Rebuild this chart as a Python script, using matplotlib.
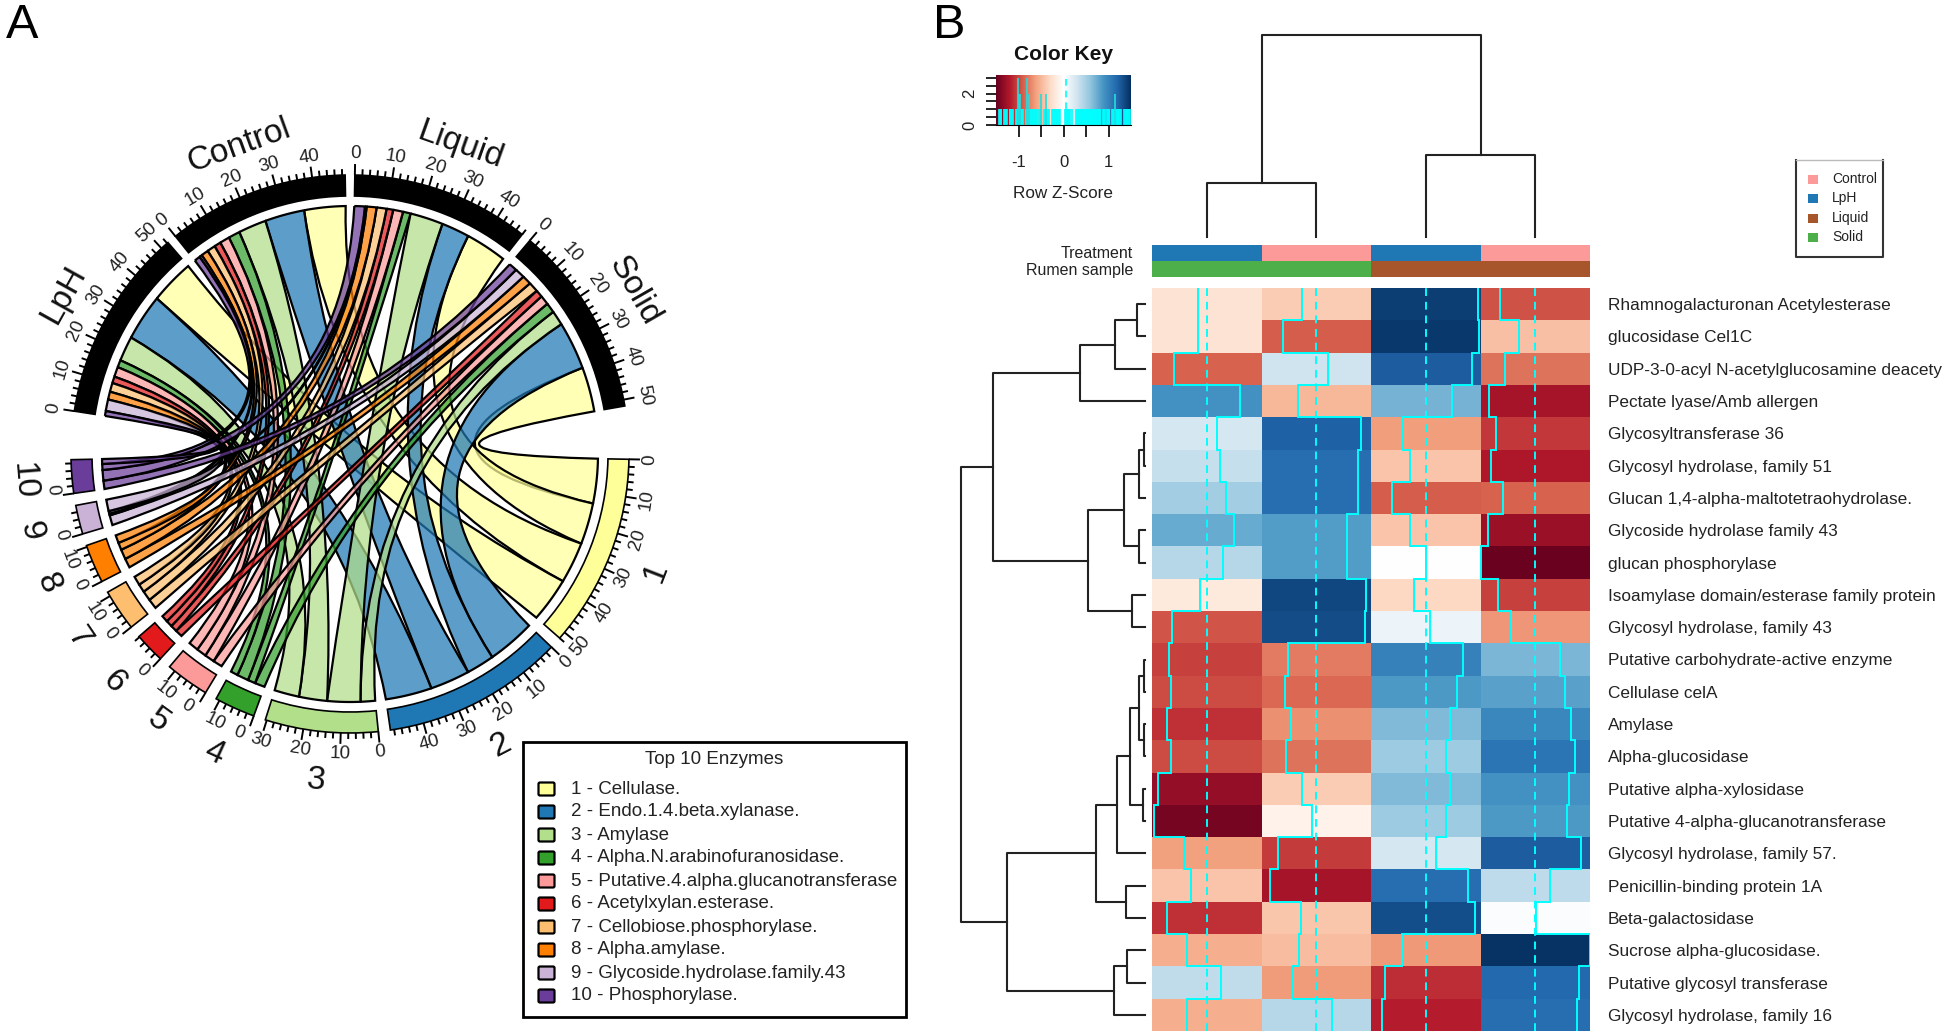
import numpy as np
import matplotlib
matplotlib.use("Agg")
import matplotlib.pyplot as plt
from matplotlib.colors import LinearSegmentedColormap, to_rgba
from matplotlib.path import Path
from matplotlib.patches import PathPatch, Wedge, Rectangle, FancyBboxPatch

plt.rcParams["font.family"] = ["Liberation Sans", "DejaVu Sans"]

W, H = 1946, 1035

# panel A data
treatments = ["Liquid", "Solid", "Control", "LpH"]
enzymes = ["1", "2", "3", "4", "5", "6", "7", "8", "9", "10"]
enzyme_names = ["1 - Cellulase.", "2 - Endo.1.4.beta.xylanase.", "3 - Amylase",
                "4 - Alpha.N.arabinofuranosidase.", "5 - Putative.4.alpha.glucanotransferase",
                "6 - Acetylxylan.esterase.", "7 - Cellobiose.phosphorylase.", "8 - Alpha.amylase.",
                "9 - Glycoside.hydrolase.family.43", "10 - Phosphorylase."]
enzyme_colors = ["#FFFF99", "#1F78B4", "#B2DF8A", "#33A02C", "#FB9A99",
                 "#E31A1C", "#FDBF6F", "#FF7F00", "#CAB2D6", "#6A3D9A"]
# rows follow enzymes, columns follow treatments
flows = np.array([
    [12.5, 13.5, 12.5, 13.5],
    [8.5, 14.5, 12.0, 14.0],
    [10.0, 4.4, 8.5, 7.5],
    [2.3, 3.0, 3.5, 2.2],
    [3.0, 2.8, 3.0, 3.0],
    [2.0, 2.2, 2.0, 2.0],
    [3.0, 3.0, 2.5, 2.7],
    [3.0, 2.8, 2.2, 2.4],
    [0.5, 3.0, 0.8, 3.5],
    [3.2, 2.5, 1.8, 1.5],
])

# panel B data
row_labels = ["Rhamnogalacturonan Acetylesterase", "glucosidase Cel1C",
              "UDP-3-0-acyl N-acetylglucosamine deacety", "Pectate lyase/Amb allergen",
              "Glycosyltransferase 36", "Glycosyl hydrolase, family 51",
              "Glucan 1,4-alpha-maltotetraohydrolase.", "Glycoside hydrolase family 43",
              "glucan phosphorylase", "Isoamylase domain/esterase family protein",
              "Glycosyl hydrolase, family 43", "Putative carbohydrate-active enzyme",
              "Cellulase celA", "Amylase", "Alpha-glucosidase", "Putative alpha-xylosidase",
              "Putative 4-alpha-glucanotransferase", "Glycosyl hydrolase, family 57.",
              "Penicillin-binding protein 1A", "Beta-galactosidase", "Sucrose alpha-glucosidase.",
              "Putative glycosyl transferase", "Glycosyl hydrolase, family 16"]
zscores = np.array([
    [-0.23, -0.38, 1.42, -0.95],
    [-0.23, -0.91, 1.45, -0.45],
    [-0.89, 0.31, 1.25, -0.82],
    [0.91, -0.50, 0.71, -1.25],
    [0.27, 1.22, -0.63, -1.06],
    [0.36, 1.14, -0.43, -1.21],
    [0.52, 1.14, -0.91, -0.88],
    [0.75, 0.84, -0.43, -1.29],
    [0.43, 0.84, 0.01, -1.48],
    [-0.18, 1.36, -0.31, -1.02],
    [-0.94, 1.34, 0.12, -0.66],
    [-1.02, -0.78, 1.01, 0.68],
    [-0.98, -0.86, 0.86, 0.82],
    [-1.09, -0.69, 0.66, 0.98],
    [-0.98, -0.82, 0.55, 1.09],
    [-1.32, -0.38, 0.66, 0.91],
    [-1.44, -0.11, 0.55, 0.86],
    [-0.62, -1.05, 0.27, 1.25],
    [-0.43, -1.25, 1.14, 0.39],
    [-1.09, -0.42, 1.33, 0.03],
    [-0.55, -0.46, -0.65, 1.48],
    [0.38, -0.64, -1.11, 1.18],
    [-0.55, 0.43, -1.18, 1.14],
])
col_treatment = ["LpH", "Control", "LpH", "Control"]
col_rumen = ["Solid", "Solid", "Liquid", "Liquid"]
group_colors = {"Control": "#FB9A99", "LpH": "#1F78B4", "Liquid": "#A6562A", "Solid": "#4DAF4A"}
group_names = ["Control", "LpH", "Liquid", "Solid"]
heat_colors = ["#67001F", "#B2182B", "#D6604D", "#F4A582", "#FDDBC7", "#FFFFFF",
               "#D1E5F0", "#92C5DE", "#4393C3", "#2166AC", "#053061"]

# merges as (left, right, height), new ids continue after the leaves
col_merges = [(0, 1, 0.267), (2, 3, 0.406), (4, 5, 1.0)]
row_merges = [(0, 1, 7.7), (23, 2, 30.3), (24, 3, 65), (4, 5, 1.3), (26, 6, 6), (7, 8, 6),
              (27, 28, 21.3), (9, 10, 13.3), (29, 30, 56.7), (25, 31, 151.7), (11, 12, 1.3),
              (13, 14, 1.3), (33, 34, 6), (15, 16, 2.3), (35, 36, 14.7), (37, 17, 27.7),
              (18, 19, 19), (38, 39, 49.3), (20, 21, 17.7), (41, 22, 30.7), (40, 42, 138.3),
              (32, 43, 184)]

# cyan histogram in the colour key
key_gaps = [(-1.5, -1.45), (-1.37, -1.33), (-1.25, -1.2), (-1.11, -1.07), (-0.88, -0.84),
            (-0.58, -0.55), (-0.48, -0.45), (-0.30, -0.27), (-0.19, -0.16), (-0.06, 0.03),
            (0.15, 0.18), (0.19, 0.27), (0.84, 0.87), (0.93, 0.96), (1.04, 1.07), (1.30, 1.34)]
key_spikes = [(-1.01, 2.98), (-0.98, 2.0), (-0.96, 2.0), (-0.81, 2.98), (-0.76, 2.0),
              (-0.50, 2.0), (-0.385, 2.0), (1.15, 2.0)]
key_center = 0.05


def px_axes(fig, left, top, right, bottom):
    return fig.add_axes([left / W, 1 - bottom / H, (right - left) / W, (bottom - top) / H])


def dendro_lines(merges, n_leaves):
    # returns one (positions, heights) polyline for each merge
    pos = {i: i + 0.5 for i in range(n_leaves)}
    hgt = {i: 0.0 for i in range(n_leaves)}
    lines = []
    for k, (a, b, h) in enumerate(merges):
        lines.append(([pos[a], pos[a], pos[b], pos[b]], [hgt[a], h, h, hgt[b]]))
        pos[n_leaves + k] = (pos[a] + pos[b]) / 2
        hgt[n_leaves + k] = h
    return lines


def polar(r, deg):
    return r * np.cos(np.radians(deg)), r * np.sin(np.radians(deg))


def text_rot(deg):
    return deg - 90 if np.sin(np.radians(deg)) > 0 else deg + 90


def ribbon(r, a1, a2, b1, b2, ctrl):
    arc1 = np.linspace(a1, a2, 20)
    arc2 = np.linspace(b1, b2, 20)
    verts, codes = [], []
    for i, d in enumerate(arc1):
        verts.append(polar(r, d))
        codes.append(Path.MOVETO if i == 0 else Path.LINETO)
    mid = (a2 + b1) / 2
    verts += [polar(ctrl, mid), polar(r, b1)]
    codes += [Path.CURVE3, Path.CURVE3]
    for d in arc2[1:]:
        verts.append(polar(r, d))
        codes.append(Path.LINETO)
    mid = (b2 + a1) / 2
    verts += [polar(ctrl, mid), polar(r, a1)]
    codes += [Path.CURVE3, Path.CURVE3]
    return Path(verts, codes)


fig = plt.figure(figsize=(W / 100, H / 100), dpi=100)

# ---- panel A, chord diagram
cx, cy, half = 350, 454, 345
ax = px_axes(fig, cx - half, cy - half, cx + half, cy + half)
ax.set_xlim(-half, half)
ax.set_ylim(-half, half)
ax.axis("off")

R_out, R_in, R_chord = 279, 258, 248
sectors = ["Liquid", "Solid"] + enzymes + ["LpH", "Control"]
gaps = [2, 11] + [2.5] * 9 + [10, 2, 2]
sizes = {}
for j, t in enumerate(treatments):
    sizes[t] = flows[:, j].sum()
for i, e in enumerate(enzymes):
    sizes[e] = flows[i].sum()
deg_per_unit = (360 - sum(gaps)) / sum(sizes.values())

start = {}
angle = 89.0
for s, g in zip(sectors, gaps):
    start[s] = angle
    angle -= sizes[s] * deg_per_unit + g

# sector bands, ticks and labels
for s in sectors:
    a0 = start[s]
    a1 = a0 - sizes[s] * deg_per_unit
    mid = (a0 + a1) / 2
    color = enzyme_colors[enzymes.index(s)] if s in enzymes else "black"
    ax.add_patch(Wedge((0, 0), R_out, a1, a0, width=R_out - R_in, fc=color, ec="black", lw=1.2))
    for v in np.arange(0, sizes[s] + 0.01, 2):
        d = a0 - v * deg_per_unit
        major = v % 10 == 0
        x0, y0 = polar(R_out, d)
        x1, y1 = polar(R_out + (11 if major else 6), d)
        ax.plot([x0, x1], [y0, y1], color="black", lw=1.4, solid_capstyle="butt")
        if major:
            # labels on the short sectors sit closer to the sector middle
            d_text = mid + (d - mid) * 0.65 if sizes[s] < 15 else d
            tx, ty = polar(R_out + 21, d_text)
            ax.text(tx, ty, f"{int(v)}", fontsize=13.5, ha="center", va="center",
                    rotation=text_rot(d_text), rotation_mode="anchor", color="#222222")
    tx, ty = polar(R_out + 49, mid)
    ax.text(tx, ty, s, fontsize=24, ha="center", va="center",
            rotation=text_rot(mid), rotation_mode="anchor", color="#111111")

# ribbon slots, treatments fill enzyme 10 first, enzymes fill Solid first
tre_slots = {}
for j, t in enumerate(treatments):
    a = start[t]
    for i in range(len(enzymes) - 1, -1, -1):
        tre_slots[(i, j)] = (a, a - flows[i, j] * deg_per_unit)
        a -= flows[i, j] * deg_per_unit
enz_slots = {}
for i, e in enumerate(enzymes):
    a = start[e]
    for j in [1, 0, 2, 3]:
        enz_slots[(i, j)] = (a, a - flows[i, j] * deg_per_unit)
        a -= flows[i, j] * deg_per_unit

for i in range(len(enzymes)):
    for j in [1, 0, 2, 3]:
        t0, t1 = tre_slots[(i, j)]
        e0, e1 = enz_slots[(i, j)]
        # keep angle pairs on the same turn so the control point lands on the short side
        if t1 - e0 > 180:
            e0, e1 = e0 + 360, e1 + 360
        p = ribbon(R_chord, t0, t1, e0, e1, 12)
        ax.add_patch(PathPatch(p, fc=to_rgba(enzyme_colors[i], 0.72), ec="black", lw=1.6))

# ---- overlay in pixel coordinates for legends and free text
ov = fig.add_axes([0, 0, 1, 1], zorder=5)
ov.set_xlim(0, W)
ov.set_ylim(H, 0)
ov.axis("off")
ov.patch.set_alpha(0)

ov.text(22, 25, "A", fontsize=35, ha="center", va="center")
ov.text(949, 25, "B", fontsize=35, ha="center", va="center")

ov.add_patch(Rectangle((523, 742), 383, 275, fc="white", ec="black", lw=2))
ov.text(714, 759, "Top 10 Enzymes", fontsize=13.5, ha="center", va="center", color="#222222")
legend_y = [789, 812, 835, 858, 881, 904, 927, 950, 973, 996]
for name, col, y in zip(enzyme_names, enzyme_colors, legend_y):
    ov.add_patch(FancyBboxPatch((540, y - 5), 13, 10, boxstyle="round,pad=1.5", fc=col, ec="black", lw=1.6))
    ov.text(571, y, name, fontsize=13.5, ha="left", va="center", color="#222222")

ov.plot([1796, 1796, 1883, 1883], [160, 257, 257, 160], color="#333333", lw=1.5)
ov.plot([1796, 1883], [160, 160], color="#bbbbbb", lw=1)
for name, y in zip(group_names, [179, 198, 218, 237]):
    ov.add_patch(Rectangle((1808, y - 4.5), 10, 9, fc=group_colors[name], ec="none"))
    ov.text(1832, y, name, fontsize=10, ha="left", va="center", color="#222222")

ov.text(1133, 254, "Treatment", fontsize=11.5, ha="right", va="center", color="#222222")
ov.text(1133, 270, "Rumen sample", fontsize=11.5, ha="right", va="center", color="#222222")
ov.text(1063, 54, "Color Key", fontsize=15, fontweight="bold", ha="center", va="center", color="#111111")
ov.text(1063, 193, "Row Z-Score", fontsize=12.3, ha="center", va="center", color="#222222")

# ---- panel B, heatmap
heat_cmap = LinearSegmentedColormap.from_list("key", heat_colors)
hl, hr, ht, hb = 1152, 1590, 288, 1031
hm = px_axes(fig, hl, ht, hr, hb)
n_rows, n_cols = zscores.shape
hm.pcolormesh(np.arange(n_cols + 1), np.arange(n_rows + 1), zscores, cmap=heat_cmap, vmin=-1.5, vmax=1.5)
hm.set_xlim(0, n_cols)
hm.set_ylim(n_rows, 0)
for j in range(n_cols):
    hm.axvline(j + 0.5, color="cyan", lw=1.4, ls=(0, (4, 3)))
    hm.stairs(j + 0.5 + zscores[:, j] * 0.335, np.arange(n_rows + 1), orientation="horizontal",
              baseline=None, color="cyan", lw=1.4)
hm.set_xticks([])
hm.yaxis.tick_right()
hm.set_yticks(np.arange(n_rows) + 0.5)
hm.set_yticklabels(row_labels, fontsize=12.4, color="#222222")
hm.tick_params(axis="y", length=0, pad=13)
for sp in hm.spines.values():
    sp.set_visible(False)

# annotation strips
strip = px_axes(fig, hl, 245, hr, 277)
strip.set_xlim(0, n_cols)
strip.set_ylim(2, 0)
strip.axis("off")
for j in range(n_cols):
    strip.add_patch(Rectangle((j, 0), 1, 1, fc=group_colors[col_treatment[j]], ec="none"))
    strip.add_patch(Rectangle((j, 1), 1, 1, fc=group_colors[col_rumen[j]], ec="none"))

# dendrograms
top = px_axes(fig, hl, 35, hr, 237)
top.set_xlim(0, n_cols)
top.set_ylim(0, 1)
top.axis("off")
for xs, ys in dendro_lines(col_merges, n_cols):
    top.plot(xs, ys, color="#222222", lw=1.5, clip_on=False)

left = px_axes(fig, 961, ht, 1145, hb)
left.set_xlim(184, 0)
left.set_ylim(n_rows, 0)
left.axis("off")
for ys, xs in dendro_lines(row_merges, n_rows):
    left.plot(xs, ys, color="#222222", lw=1.5, clip_on=False)

# colour key
key = px_axes(fig, 996, 75, 1131, 125)
grad = np.linspace(-1.5, 1.5, 256).reshape(1, -1)
key.imshow(grad, extent=[-1.5, 1.5, 0, 3.19], aspect="auto", cmap=heat_cmap, vmin=-1.5, vmax=1.5)
key_bins = np.arange(-1.5, 1.5, 0.02)
for b in key_bins:
    if not any(g0 <= b <= g1 for g0, g1 in key_gaps):
        key.vlines(b, 0, 1.02, color="cyan", lw=1.2)
for b, h in key_spikes:
    key.vlines(b, 0, h, color="#22dddd", lw=1.2)
key.vlines(key_center, 1.02, 3.05, color="cyan", lw=1.2, ls=(0, (4, 3)))
key.set_xlim(-1.5, 1.5)
key.set_ylim(0, 3.19)
key.set_xticks([-1, -0.5, 0, 0.5, 1])
key.set_xticklabels(["-1", "", "0", "", "1"], fontsize=12, color="#222222")
key.set_yticks(np.arange(0, 3.1, 0.5))
key.set_yticklabels(["0", "", "", "", "2", "", ""], fontsize=12, rotation=90, va="center", color="#222222")
key.tick_params(axis="x", length=8.5, width=1.2, pad=13)
key.tick_params(axis="y", length=7.5, width=1.2, pad=6)
for sp in ["top", "right", "left"]:
    key.spines[sp].set_visible(False)

fig.savefig("out.png", dpi=100)
plt.close(fig)
